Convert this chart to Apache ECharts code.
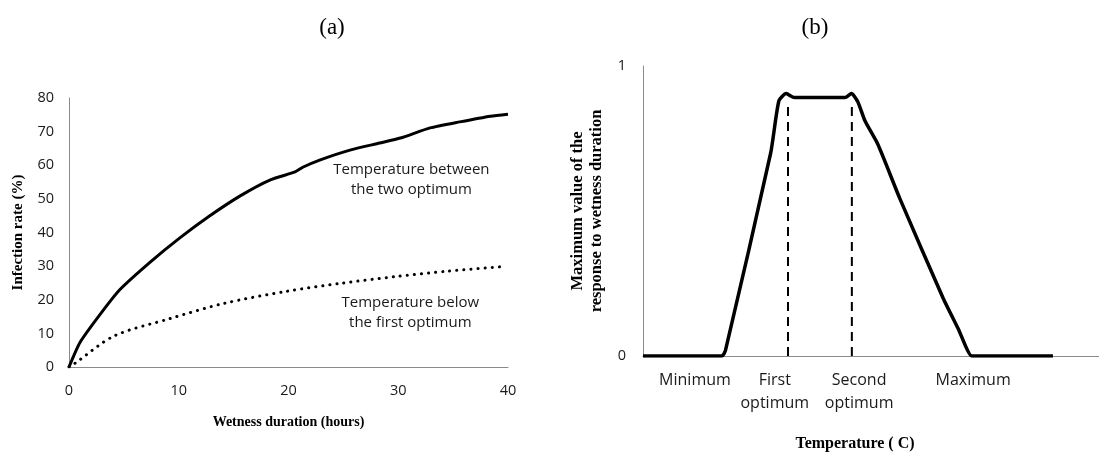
<!DOCTYPE html>
<html>
<head>
<meta charset="utf-8">
<script src="https://cdn.jsdelivr.net/npm/echarts@6/dist/echarts.min.js"></script>
<style>
  html, body { margin: 0; padding: 0; background: #fff; }
  #chart { width: 1099px; height: 457px; }
</style>
</head>
<body>
<div id="chart"></div>
<script>
// (a) infection rate vs wetness duration
const hoursBetween = [0, 1.0, 2.8, 4.6, 7.4, 10.1, 12.8, 15.6, 18.3, 20.6, 21.3, 22.9, 25.6, 28.3, 30.2, 32.9, 35.6, 38.4, 40];
const rateBetween = [0, 7.3, 15.5, 22.9, 31.2, 38.4, 44.9, 50.9, 55.6, 58.0, 59.4, 61.6, 64.5, 66.6, 68.1, 71.1, 72.9, 74.6, 75.2];
const hoursBelow = [0, 0.5, 4.1, 9.1, 14.1, 19.8, 24.8, 29.8, 34.5, 39.7];
const rateBelow = [0, 1.0, 9.2, 14.3, 18.9, 22.5, 24.9, 26.9, 28.5, 29.9];
const labelBetween = "Temperature between\nthe two optimum";
const labelBelow = "Temperature below\nthe first optimum";

// (b) response maximum vs temperature (temperature in relative units 0-100)
const temp = [0, 17.3, 18.1, 28.0, 29.8, 31.4, 33.2, 44.3, 45.7, 47.1, 48.7, 51.5, 56.4, 65.8, 69.1, 72.1, 72.8, 89.9];
const response = [0, 0, 0.02, 0.70, 0.88, 0.905, 0.891, 0.891, 0.905, 0.877, 0.81, 0.73, 0.54, 0.20, 0.095, 0, 0, 0];
const optima = [31.8, 45.8];
const optimaTop = 0.875;
const tempTickPos = [11.4, 28.9, 47.4, 72.4];
const tempTickText = ["Minimum", "First\noptimum", "Second\noptimum", "Maximum"];

const zip = (xs, ys) => xs.map((x, i) => [x, ys[i]]);

const axisGray = "#8a8a8a";
const sans = "Open Sans";
const serif = "Liberation Serif";

const noteLabel = {
  show: true,
  position: "inside",
  formatter: (p) => p.data.note,
  fontFamily: sans,
  fontSize: 15,
  lineHeight: 20,
  color: "#1a1a1a",
};

const option = {
  animation: false,
  backgroundColor: "#fff",
  title: [
    { text: "(a)", left: 327, top: 11, textAlign: "center",
      textStyle: { fontFamily: serif, fontWeight: "normal", fontSize: 23, color: "#000" } },
    { text: "(b)", left: 810, top: 11, textAlign: "center",
      textStyle: { fontFamily: serif, fontWeight: "normal", fontSize: 23, color: "#000" } },
  ],
  grid: [
    { left: 69, top: 98, width: 439, height: 269 },
    { left: 643, top: 66, width: 456, height: 293 },
  ],
  xAxis: [
    {
      gridIndex: 0,
      type: "value",
      min: 0,
      max: 40,
      interval: 10,
      name: "Wetness duration (hours)",
      nameLocation: "middle",
      nameGap: 48,
      nameTextStyle: { fontFamily: serif, fontWeight: "bold", fontSize: 14, color: "#000" },
      axisLine: { show: true, lineStyle: { color: axisGray, width: 1 } },
      axisTick: { show: false },
      splitLine: { show: false },
      axisLabel: { margin: 16, fontFamily: sans, fontSize: 14.5, color: "#1a1a1a" },
    },
    {
      gridIndex: 1,
      type: "value",
      min: 0,
      max: 100,
      name: "Temperature ( C)",
      nameLocation: "middle",
      nameGap: 80,
      nameTextStyle: { fontFamily: serif, fontWeight: "bold", fontSize: 16, color: "#000", padding: [0, 32, 0, 0] },
      axisLine: { show: true, lineStyle: { color: axisGray, width: 1 } },
      axisTick: { show: false },
      splitLine: { show: false },
      axisLabel: {
        customValues: tempTickPos,
        formatter: (v) => tempTickText[tempTickPos.indexOf(v)] || "",
        margin: 13,
        lineHeight: 23,
        fontFamily: sans,
        fontSize: 16,
        color: "#1a1a1a",
      },
    },
  ],
  yAxis: [
    {
      gridIndex: 0,
      type: "value",
      min: 0,
      max: 80,
      interval: 10,
      name: "Infection rate (%)",
      nameLocation: "middle",
      nameGap: 43,
      nameTextStyle: { fontFamily: serif, fontWeight: "bold", fontSize: 15, color: "#000" },
      axisLine: { show: true, lineStyle: { color: axisGray, width: 1 } },
      axisTick: { show: false },
      splitLine: { show: false },
      axisLabel: { margin: 15, fontFamily: sans, fontSize: 14.5, color: "#1a1a1a" },
    },
    {
      gridIndex: 1,
      type: "value",
      min: 0,
      max: 1,
      interval: 1,
      name: "Maximum value of the\nresponse to wetness duration",
      nameLocation: "middle",
      nameGap: 37,
      nameTextStyle: { fontFamily: serif, fontWeight: "bold", fontSize: 16.5, lineHeight: 19, color: "#000" },
      axisLine: { show: true, lineStyle: { color: axisGray, width: 1 } },
      axisTick: { show: false },
      splitLine: { show: false },
      axisLabel: { margin: 17, fontFamily: sans, fontSize: 14.5, color: "#1a1a1a" },
    },
  ],
  series: [
    {
      name: "between",
      type: "line",
      xAxisIndex: 0,
      yAxisIndex: 0,
      symbol: "none",
      smooth: 0.2,
      data: zip(hoursBetween, rateBetween),
      lineStyle: { color: "#000", width: 3 },
      markPoint: {
        symbol: "circle",
        symbolSize: 1,
        itemStyle: { color: "rgba(0,0,0,0)" },
        data: [{ coord: [31.2, 55.6], note: labelBetween }],
        label: noteLabel,
      },
    },
    {
      name: "below",
      type: "line",
      xAxisIndex: 0,
      yAxisIndex: 0,
      symbol: "none",
      smooth: 0.3,
      data: zip(hoursBelow, rateBelow),
      lineStyle: { color: "#000", width: 3, type: [0.1, 7], cap: "round" },
      markPoint: {
        symbol: "circle",
        symbolSize: 1,
        itemStyle: { color: "rgba(0,0,0,0)" },
        data: [{ coord: [31.1, 16.1], note: labelBelow }],
        label: noteLabel,
      },
    },
    {
      name: "response",
      type: "line",
      xAxisIndex: 1,
      yAxisIndex: 1,
      symbol: "none",
      smooth: 0.2,
      z: 3,
      data: zip(temp, response),
      lineStyle: { color: "#000", width: 3.5 },
    },
    ...optima.map((t, i) => ({
      name: "optimum" + (i + 1),
      type: "line",
      xAxisIndex: 1,
      yAxisIndex: 1,
      symbol: "none",
      data: [[t, 0], [t, optimaTop]],
      lineStyle: { color: "#000", width: 2, type: [9, 6] },
    })),
  ],
};

const myChart = echarts.init(document.getElementById("chart"));
myChart.setOption(option);
</script>
</body>
</html>
